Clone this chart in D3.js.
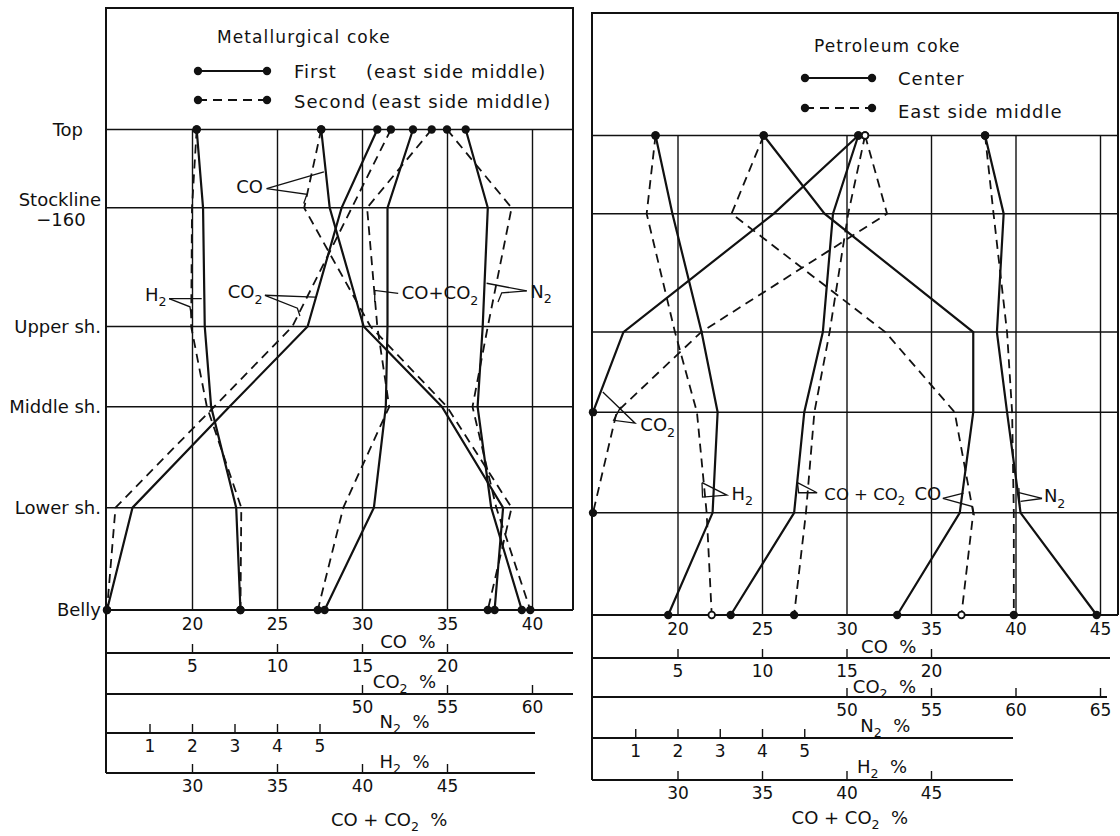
<!DOCTYPE html>
<html>
<head>
<meta charset="utf-8">
<script src="https://d3js.org/d3.v7.min.js"></script>
<style>
  body { margin: 0; background: #fff; }
  svg text { font-family: "DejaVu Sans", sans-serif; fill: #111; }
</style>
</head>
<body>
<script>
// furnace levels, top to bottom, and their relative depth (0 = top, 100 = belly)
let levels = ["Top", "Stockline", "Upper sh.", "Middle sh.", "Lower sh.", "Belly"]
let levelNotes = ["", "\u2212160", "", "", "", ""]
let levelDepth = [0, 16.3, 41, 57.7, 78.7, 100]

// metallurgical coke: first run (solid), second run (dashed), gas %
let met_co_first = [27.6, 28.1, 30.1, 34.7, 38.3, 37.8]
let met_co_second = [27.6, 26.6, 30.5, 35.0, 38.8, 37.4]
let met_co2_first = [15.9, 13.8, 11.8, 7.2, 1.5, 0.0]
let met_co2_second = [16.7, 14.4, 10.9, 6.3, 0.5, 0.0]
let met_n2_first = [56.1, 57.4, 57.1, 56.8, 57.6, 59.4]
let met_n2_second = [55.0, 58.8, 57.4, 56.5, 57.9, 59.9]
let met_h2_first = [2.11, 2.26, 2.30, 2.45, 3.04, 3.14]
let met_h2_second = [2.11, 2.00, 1.98, 2.35, 3.16, 3.14]
let met_sum_first = [43.0, 41.5, 41.5, 41.4, 40.7, 37.8]
let met_sum_second = [44.1, 40.3, 40.9, 41.6, 38.9, 37.4]

// petroleum coke: center (solid), east side middle (dashed), gas %
let pet_co_center = [25.1, 28.7, 37.5, 37.5, 36.7, 33.0]
let pet_co_east = [25.1, 23.2, 32.3, 36.4, 37.5, 36.8]
let pet_co2_center = [15.7, 10.7, 1.8, 0.0, null, null]
let pet_co2_east = [16.1, 17.4, 6.4, 1.4, 0.0, null]
let pet_n2_center = [58.2, 59.3, 58.9, 59.5, 60.3, 64.8]
let pet_n2_east = [58.2, 58.7, 59.5, 59.8, 59.9, 59.9]
let pet_h2_center = [1.48, 1.88, 2.57, 2.95, 2.83, 1.78]
let pet_h2_east = [1.48, 1.27, 1.94, 2.46, 2.69, 2.81]
let pet_sum_center = [40.7, 39.2, 38.6, 37.5, 36.9, 33.15]
let pet_sum_east = [41.1, 40.1, 39.0, 38.1, 37.6, 36.9]

// tick labels of the stacked scales
let met_co_ticks = [20, 25, 30, 35, 40]
let pet_co_ticks = [20, 25, 30, 35, 40, 45]
let co2_ticks = [5, 10, 15, 20]
let met_n2_ticks = [50, 55, 60]
let pet_n2_ticks = [50, 55, 60, 65]
let h2_ticks = [1, 2, 3, 4, 5]
let sum_ticks = [30, 35, 40, 45]

// every gas scale shares the same grid, just shifted / stretched
let gasStart = {CO: 15, CO2: 0, N2: 35, H2: 0, SUM: 25}
let gasStretch = {CO: 1, CO2: 1, N2: 1, H2: 2.5, SUM: 1}
let axisTitles = ["CO  %", "CO{2}  %", "N{2}  %", "H{2}  %", "CO + CO{2}  %"]

let ink = "#111"
let svg = d3.select("body").append("svg").attr("width", 1120).attr("height", 836)

// text with {x} parts set as subscripts
function richText(sel, str, size) {
    let shift = 0
    str.split(/(\{[^}]*\})/).forEach(function(p) {
        if (!p) return
        let isSub = p[0] == "{"
        let t = sel.append("tspan")
            .attr("dy", (isSub ? 0.3 * size : 0) - shift)
            .text(isSub ? p.slice(1, -1) : p)
        if (isSub) t.attr("font-size", size * 0.7)
        shift = isSub ? 0.3 * size : 0
    })
}

let met = {
    left: 106, right: 573, top: 8, x0: 107, unit: 17, span: 25,
    yTop: 129.5, yBelly: 610,
    axisY: [610, 653, 694, 733, 773], axisEnd: [573, 573, 573, 535, 535],
    titleU: [17.7, 17.5, 17.5, 17.5, 16.6], titleDy: [38, 35, 34, 35, 53],
    coTicks: met_co_ticks, n2Ticks: met_n2_ticks,
    lines: [
        {gas: "H2", dash: false, v: met_h2_first},
        {gas: "H2", dash: true, v: met_h2_second},
        {gas: "CO2", dash: false, v: met_co2_first},
        {gas: "CO2", dash: true, v: met_co2_second},
        {gas: "CO", dash: false, v: met_co_first},
        {gas: "CO", dash: true, v: met_co_second},
        {gas: "SUM", dash: false, v: met_sum_first},
        {gas: "SUM", dash: true, v: met_sum_second},
        {gas: "N2", dash: false, v: met_n2_first},
        {gas: "N2", dash: true, v: met_n2_second}
    ],
    notes: [
        {label: "CO", anchor: "end", at: [9.18, 13.3], size: 18,
         paths: [[[9.39, 12.3], [12.76, 8.8]], [[9.39, 12.3], [11.76, 13.5], [11.57, 15.4]]]},
        {label: "CO{2}", anchor: "end", at: [9.15, 35.1], size: 18,
         paths: [[[9.29, 34.5], [12.24, 34.9]], [[9.29, 34.5], [11.2, 37.2], [11.35, 38.8]]]},
        {label: "H{2}", anchor: "end", at: [3.5, 35.6], size: 18,
         paths: [[[3.65, 35.2], [5.57, 35.2]], [[3.65, 35.2], [4.88, 36.9], [4.98, 39.2]]]},
        {label: "CO+CO{2}", anchor: "start", at: [17.34, 35.35], size: 18,
         paths: [[[17.13, 34.1], [15.75, 33.5], [15.75, 35.9]]]},
        {label: "N{2}", anchor: "start", at: [24.9, 35.0], size: 18,
         paths: [[[24.69, 33.6], [22.33, 32.0]], [[24.69, 33.6], [23.22, 34.0], [23.0, 35.9]]]}
    ],
    legend: {title: "Metallurgical coke", tx: 217, ty: 43, x1: 198, x2: 267, lineY: [71, 100],
             textX: 294, partX: [366, 371], textY: [78, 108],
             items: [["First", "(east side middle)"], ["Second", "(east side middle)"]]}
}

let pet = {
    left: 592, right: 1118, top: 13, x0: 593, unit: 16.9, span: 30,
    yTop: 135.5, yBelly: 615,
    axisY: [615, 658, 697, 738, 780], axisEnd: [1118, 1110, 1107, 1013, 1013],
    titleU: [17.5, 17.25, 17.3, 17.1, 15.2], titleDy: [38, 35, 35, 35, 44],
    coTicks: pet_co_ticks, n2Ticks: pet_n2_ticks,
    lines: [
        {gas: "CO2", dash: false, v: pet_co2_center},
        {gas: "CO2", dash: true, v: pet_co2_east, open: [true, false]},
        {gas: "H2", dash: false, v: pet_h2_center},
        {gas: "H2", dash: true, v: pet_h2_east, open: [false, true]},
        {gas: "CO", dash: false, v: pet_co_center},
        {gas: "CO", dash: true, v: pet_co_east, open: [false, true]},
        {gas: "SUM", dash: false, v: pet_sum_center},
        {gas: "SUM", dash: true, v: pet_sum_east, open: [true, false]},
        {gas: "N2", dash: false, v: pet_n2_center},
        {gas: "N2", dash: true, v: pet_n2_east}
    ],
    notes: [
        {label: "CO{2}", anchor: "start", at: [2.8, 61.7], size: 18,
         paths: [[[0.58, 53.5], [2.49, 60.0], [1.22, 59.4], [1.64, 56.6]]]},
        {label: "H{2}", anchor: "start", at: [8.19, 76.0], size: 18,
         paths: [[[6.45, 72.4], [7.92, 75.0], [6.48, 75.4], [6.45, 72.4]]]},
        {label: "CO + CO{2}", anchor: "start", at: [13.69, 76.0], size: 16.5,
         paths: [[[12.1, 72.4], [13.26, 74.5], [12.17, 74.5], [12.1, 72.4]]]},
        {label: "CO", anchor: "end", at: [20.6, 76.0], size: 18,
         paths: [[[20.7, 75.7], [21.93, 74.6]], [[20.7, 75.7], [22.46, 77.4], [22.56, 79.2]]]},
        {label: "N{2}", anchor: "start", at: [26.68, 76.5], size: 18,
         paths: [[[26.57, 75.7], [25.2, 74.5]], [[26.57, 75.7], [25.3, 76.3]], [[25.2, 73.5], [25.25, 77.3]]]}
    ],
    legend: {title: "Petroleum coke", tx: 814, ty: 52, x1: 805, x2: 872, lineY: [78, 108],
             textX: 898, partX: [0, 0], textY: [85, 118], items: [["Center"], ["East side middle"]]}
}

function drawPanel(p) {
    let g = svg.append("g")
    let y = d3.scaleLinear().domain([0, 100]).range([p.yTop, p.yBelly])
    let u = d3.scaleLinear().domain([0, p.span]).range([p.x0, p.x0 + p.span * p.unit])
    let x = {}
    for (let gas in gasStart) {
        x[gas] = d3.scaleLinear()
            .domain([gasStart[gas], gasStart[gas] + p.span / gasStretch[gas]])
            .range(u.range())
    }

    // frame
    g.append("path")
        .attr("d", "M" + p.left + "," + p.axisY[4] + "V" + p.top + "H" + p.right + "V" + p.yBelly)
        .attr("fill", "none").attr("stroke", ink).attr("stroke-width", 2)

    // level lines
    g.selectAll(".level").data(levelDepth.slice(0, 5)).enter().append("line")
        .attr("x1", p.left).attr("x2", p.right)
        .attr("y1", d => y(d)).attr("y2", d => y(d))
        .attr("stroke", ink).attr("stroke-width", 1.5)

    // CO scale doubles as the vertical grid
    g.append("g").attr("transform", "translate(0," + p.yBelly + ")")
        .call(d3.axisBottom(x.CO).tickValues(p.coTicks)
            .tickSize(-(p.yBelly - p.yTop)).tickPadding(8))

    let stacked = [["CO2", co2_ticks], ["N2", p.n2Ticks], ["H2", h2_ticks], ["SUM", sum_ticks]]
    stacked.forEach(function(a, i) {
        g.append("g").attr("transform", "translate(0," + p.axisY[i + 1] + ")")
            .call(d3.axisBottom(x[a[0]]).tickValues(a[1])
                .tickSizeInner(-9).tickSizeOuter(0).tickPadding(7))
    })
    g.selectAll(".domain").remove()
    g.selectAll(".tick line").attr("stroke", ink).attr("stroke-width", 1.4)
    g.selectAll(".tick text").attr("font-size", 17)

    // scale lines and titles
    p.axisY.forEach(function(ay, i) {
        g.append("line").attr("x1", p.left).attr("x2", p.axisEnd[i])
            .attr("y1", ay).attr("y2", ay)
            .attr("stroke", ink).attr("stroke-width", 2)
        let t = g.append("text").attr("x", u(p.titleU[i])).attr("y", ay + p.titleDy[i])
            .attr("text-anchor", "middle").attr("font-size", 18)
            .style("white-space", "pre")
        richText(t, axisTitles[i], 18)
    })

    // gas curves
    let line = d3.line()
        .defined(d => d.v != null)
        .x(d => x[d.gas](d.v))
        .y(d => y(d.depth))
    let dots = []
    p.lines.forEach(function(s) {
        let pts = s.v.map((v, i) => ({gas: s.gas, v: v, depth: levelDepth[i]}))
        g.append("path").datum(pts).attr("d", line)
            .attr("fill", "none").attr("stroke", ink)
            .attr("stroke-width", s.dash ? 1.8 : 2.2)
            .attr("stroke-dasharray", s.dash ? "9,6" : null)
        let ok = pts.filter(d => d.v != null)
        dots.push(Object.assign({open: s.open && s.open[0]}, ok[0]))
        dots.push(Object.assign({open: s.open && s.open[1]}, ok[ok.length - 1]))
    })
    g.selectAll(".dot").data(dots).enter().append("circle")
        .attr("cx", d => x[d.gas](d.v)).attr("cy", d => y(d.depth))
        .attr("r", d => d.open ? 3.3 : 4.2)
        .attr("fill", d => d.open ? "#fff" : ink)
        .attr("stroke", ink).attr("stroke-width", d => d.open ? 1.8 : 0)

    // curve labels with leaders
    let leader = d3.line().x(d => u(d[0])).y(d => y(d[1]))
    p.notes.forEach(function(n) {
        let t = g.append("text").attr("x", u(n.at[0])).attr("y", y(n.at[1]))
            .attr("text-anchor", n.anchor).attr("font-size", n.size)
        richText(t, n.label, n.size)
        n.paths.forEach(function(path) {
            g.append("path").attr("d", leader(path))
                .attr("fill", "none").attr("stroke", ink).attr("stroke-width", 1.3)
        })
    })

    // legend
    let L = p.legend
    g.append("text").attr("x", L.tx).attr("y", L.ty).attr("font-size", 17)
        .style("letter-spacing", "1.1px").text(L.title)
    L.items.forEach(function(item, i) {
        g.append("line").attr("x1", L.x1).attr("x2", L.x2)
            .attr("y1", L.lineY[i]).attr("y2", L.lineY[i])
            .attr("stroke", ink).attr("stroke-width", i ? 1.8 : 2.2)
            .attr("stroke-dasharray", i ? "9,6" : null)
        g.selectAll(null).data([L.x1, L.x2]).enter().append("circle")
            .attr("cx", d => d).attr("cy", L.lineY[i]).attr("r", 4.2).attr("fill", ink)
        let t = g.append("text").attr("y", L.textY[i]).attr("font-size", 18)
            .style("letter-spacing", "1px")
        t.append("tspan").attr("x", L.textX).text(item[0])
        if (item[1]) t.append("tspan").attr("x", L.partX[i]).text(item[1])
    })
    return y
}

let yMet = drawPanel(met)
drawPanel(pet)

// level names on the far left
levels.forEach(function(name, i) {
    let ly = yMet(levelDepth[i])
    let stock = levelNotes[i] != ""
    svg.append("text").attr("x", i == 0 ? 83 : 101).attr("y", stock ? ly - 2 : ly + 6)
        .attr("text-anchor", "end").attr("font-size", 18).text(name)
    if (stock) {
        svg.append("text").attr("x", 61).attr("y", ly + 18)
            .attr("text-anchor", "middle").attr("font-size", 18).text(levelNotes[i])
    }
})
</script>
</body>
</html>
